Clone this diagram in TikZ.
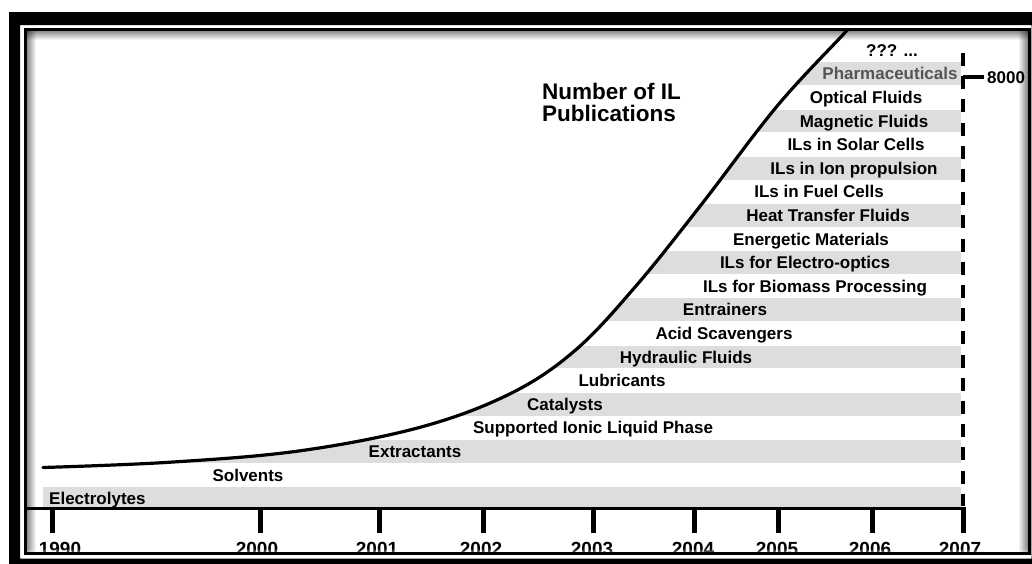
\documentclass[tikz,border=0pt]{standalone}
\usepackage{fontspec}
\setmainfont{Liberation Sans}
\definecolor{bandgray}{RGB}{221,221,221}
\definecolor{pharmagray}{RGB}{85,85,85}
\begin{document}
\begin{tikzpicture}[x=1pt,y=-1pt,
  lbl/.style={font=\fontsize{17}{20}\selectfont\bfseries, anchor=base, inner sep=0pt},
  yr/.style={font=\fontsize{19}{22}\selectfont\bfseries, anchor=base, inner sep=0pt},
  ttl/.style={font=\fontsize{22.5}{26}\selectfont\bfseries, anchor=base west, inner sep=0pt},
  curveline/.style={line width=3.2pt, line cap=round},
  axisline/.style={line width=3pt},
  tickline/.style={line width=5pt},
  dashline/.style={line width=4.5pt, dash pattern=on 13pt off 10.2pt}]
\useasboundingbox (0,0) rectangle (1032,563);
\fill[white] (0,0) rectangle (1032,563);
% grey bands, to the right of the curve
\begin{scope}
\clip plot[smooth,tension=0.6] coordinates {(43,467.5) (170,462.2) (300,450.8) (420,427.3) (510,393.8) (575,350.5) (635,287.1) (700,206.3) (777,106.2) (845,32.5) (858,17)}
  -- (961,16) -- (961,515) -- (30,515) -- (30,467.5) -- cycle;
\foreach \k in {0,2,4,6,8,10,12,14,16,18}
  \fill[bandgray] (43,{487.1-23.6*\k}) rectangle (961,{509.9-23.6*\k});
\end{scope}
% curve of publications
\draw[curveline] plot[smooth,tension=0.6] coordinates {(43,467.5) (170,462.2) (300,450.8) (420,427.3) (510,393.8) (575,350.5) (635,287.1) (700,206.3) (777,106.2) (845,32.5) (858,17)};
% labels
\node[lbl, anchor=base west] (l0) at (49,{504.6}) {Electrolytes};
\foreach \k/\x/\t in {1/248/Solvents, 2/415/Extractants, 3/593/Supported Ionic Liquid Phase,
  4/565/Catalysts, 5/622/Lubricants, 6/686/Hydraulic Fluids, 7/724/Acid Scavengers,
  8/725/Entrainers, 9/815/ILs for Biomass Processing, 10/805/ILs for Electro-optics,
  11/811/Energetic Materials, 12/828/Heat Transfer Fluids, 13/819/ILs in Fuel Cells,
  14/854/ILs in Ion propulsion, 15/856/ILs in Solar Cells, 16/864/Magnetic Fluids,
  17/866/Optical Fluids}
  \node[lbl] (l\k) at (\x,{504.6-23.6*\k}) {\t};
\node[lbl, text=pharmagray] (l18) at (890,{504.6-23.6*18}) {Pharmaceuticals};
\node[lbl] (l19) at (892,{504.6-23.6*19}) {??? ...};
% title
\node[ttl] (title1) at (542,99) {Number of IL};
\node[ttl] (title2) at (542,121) {Publications};
% 2007 dashed line and 8000 mark
\coordinate (dtop) at (963,53);
\coordinate (dbot) at (963,506);
\draw[dashline] (dtop) -- (dbot);
\coordinate (m8a) at (963,77);
\coordinate (m8b) at (984,77);
\draw[line width=4pt] (m8a) -- (m8b);
\node[lbl, anchor=base west] (n8000) at (987,83) {8000};
% time axis
\coordinate (axL) at (25,508);
\coordinate (axR) at (965.5,508);
\draw[axisline] (axL) -- (axR);
\foreach \x/\n in {52/a,260/b,379/c,483/d,593/e,694/f,778/g,872/h,963/i} {
  \coordinate (ta\n) at (\x,506.5);
  \coordinate (tb\n) at (\x,533);
  \draw[tickline] (ta\n) -- (tb\n);
}
\foreach \x/\t in {60/1990,257/2000,377/2001,481/2002,592/2003,693/2004,777/2005,870/2006,960/2007}
  \node[yr] (y\t) at (\x,555.5) {\t};
% frame
\fill[white, even odd rule] (0,0) rectangle (1032,563) (26,30) rectangle (1028,553);
\fill[black, even odd rule] (9,12) rectangle (1060,590) (20,25) rectangle (1031.5,558.5);
\draw[line width=3pt] (25.5,29.5) rectangle (1029,553.5);
\foreach \i in {0,...,8} {
  \pgfmathsetmacro\op{0.45*(1-\i/9)}
  \draw[black, opacity=\op, line width=1pt] (27.5+\i,31) -- (27.5+\i,552);
  \draw[black, opacity=\op, line width=1pt] (1027-\i,31) -- (1027-\i,552);
  \draw[black, opacity=\op, line width=1pt] (27,31.5+\i) -- (1027.5,31.5+\i);
}
\foreach \i in {0,...,2} {
  \pgfmathsetmacro\op{0.3*(1-\i/3)}
  \draw[white, opacity=\op, line width=1pt] (27,551.5-\i) -- (1027.5,551.5-\i);
}
\end{tikzpicture}
\end{document}
